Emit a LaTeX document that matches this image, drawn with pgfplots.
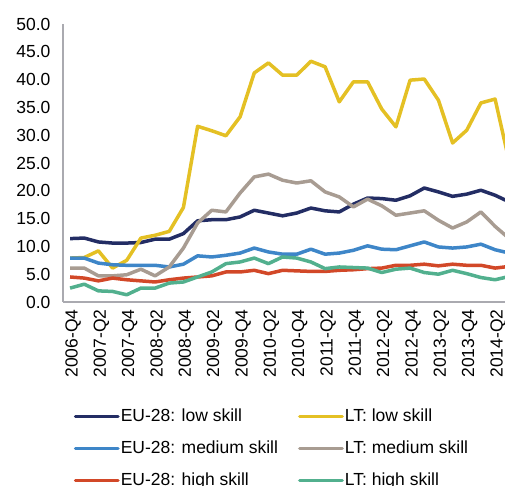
\documentclass[border=0pt]{standalone}
\usepackage{fontspec}
\setmainfont{Liberation Sans}
\usepackage{pgfplots}
\usepackage{pgfplotstable}
\pgfplotsset{compat=1.18}

\definecolor{eulow}{RGB}{35,45,100}
\definecolor{ltlow}{RGB}{228,192,36}
\definecolor{eumed}{RGB}{62,134,200}
\definecolor{ltmed}{RGB}{168,156,146}
\definecolor{euhigh}{RGB}{210,72,40}
\definecolor{lthigh}{RGB}{82,176,142}
\definecolor{axgray}{RGB}{170,170,176}

% i = quarter index, 0 = 2006-Q4 ... 31 = 2014-Q3
\pgfplotstableread{
i  eulow ltlow eumed ltmed euhigh lthigh
0  11.4  7.9   7.9   6.1   4.5    2.5
1  11.5  8.0   7.9   6.1   4.3    3.2
2  10.8  9.2   7.0   4.7   3.8    2.0
3  10.6  6.1   6.7   4.7   4.3    1.9
4  10.6  7.5   6.6   4.9   4.0    1.3
5  10.7  11.5  6.6   5.9   3.8    2.5
6  11.3  12.0  6.6   4.7   3.6    2.5
7  11.3  12.7  6.3   6.3   4.0    3.4
8  12.3  17.0  6.8   9.7   4.3    3.6
9  14.6  31.6  8.3   14.2  4.5    4.5
10 14.8  30.8  8.1   16.5  4.7    5.4
11 14.8  29.9  8.4   16.2  5.4    6.9
12 15.3  33.3  8.8   19.6  5.4    7.2
13 16.5  41.2  9.7   22.5  5.7    7.9
14 16.0  43.0  9.0   23.0  5.1    6.9
15 15.5  40.8  8.6   21.9  5.7    8.1
16 16.0  40.8  8.6   21.4  5.6    7.9
17 16.9  43.3  9.5   21.8  5.5    7.2
18 16.4  42.3  8.6   19.8  5.5    6.0
19 16.2  36.0  8.8   18.9  5.7    6.3
20 17.6  39.6  9.3   17.1  5.8    6.2
21 18.7  39.6  10.1  18.5  6.0    6.1
22 18.6  34.7  9.5   17.3  6.1    5.3
23 18.3  31.5  9.4   15.6  6.6    5.9
24 19.1  39.9  10.1  16.0  6.6    6.1
25 20.5  40.1  10.8  16.4  6.8    5.3
26 19.8  36.3  9.9   14.7  6.5    5.0
27 19.0  28.6  9.7   13.3  6.8    5.7
28 19.4  30.9  9.9   14.4  6.6    5.1
29 20.1  35.8  10.4  16.2  6.6    4.4
30 19.2  36.5  9.4   13.6  6.1    4.0
31 18.0  25.2  8.8   11.4  6.4    4.6
}\data

\begin{document}
\begin{tikzpicture}
\begin{axis}[
  at={(63pt,184pt)}, anchor=south west,
  scale only axis, width=442pt, height=278pt,
  xmin=-0.5, xmax=30.7, ymin=0, ymax=50,
  axis x line*=bottom, axis y line*=left,
  axis line style={-, axgray, line width=1.2pt},
  major tick length=0pt,
  font=\fontsize{17.5}{21}\selectfont,
  ytick={0,5,...,50},
  /pgf/number format/.cd, fixed, fixed zerofill, precision=1, assume math mode=true,
  /pgfplots/.cd,
  yticklabel style={xshift=-9pt},
  xtick={0,2,...,30},
  xticklabels={2006-Q4,2007-Q2,2007-Q4,2008-Q2,2008-Q4,2009-Q2,2009-Q4,2010-Q2,
    2010-Q4,2011-Q2,2011-Q4,2012-Q2,2012-Q4,2013-Q2,2013-Q4,2014-Q2},
  xticklabel style={rotate=90, anchor=east, xshift=-4pt, yshift=-3pt},
  every axis plot/.append style={line width=3.5pt, line join=round, no marks},
  legend columns=2,
  legend cell align=left,
  legend image code/.code={\draw[#1, line cap=round] (0pt,0pt) -- (42.5pt,0pt);},
  legend style={draw=none, fill=none, inner sep=0pt, outer sep=0pt,
    at={(rel axis cs:0,0)}, anchor=north west, xshift=10.75pt, yshift=-106pt,
    font=\fontsize{17.5}{21}\selectfont,
    nodes={inner sep=0pt, text height=13pt, text depth=4pt},
    row sep=15pt,
    /tikz/every odd column/.append style={column sep=1pt},
    /tikz/every even column/.append style={column sep=20pt}},
]
\addplot[eulow] table[x=i, y=eulow] {\data};
\addlegendentry{EU-28: low skill}
\addplot[ltlow] table[x=i, y=ltlow] {\data};
\addlegendentry{LT: low skill}
\addplot[eumed] table[x=i, y=eumed] {\data};
\addlegendentry{EU-28: medium skill}
\addplot[ltmed] table[x=i, y=ltmed] {\data};
\addlegendentry{LT: medium skill}
\addplot[euhigh] table[x=i, y=euhigh] {\data};
\addlegendentry{EU-28: high skill}
\addplot[lthigh] table[x=i, y=lthigh] {\data};
\addlegendentry{LT: high skill}
\end{axis}
\pgfresetboundingbox
\path[use as bounding box] (0pt,0pt) rectangle (505pt,486pt);
\end{tikzpicture}
\end{document}
